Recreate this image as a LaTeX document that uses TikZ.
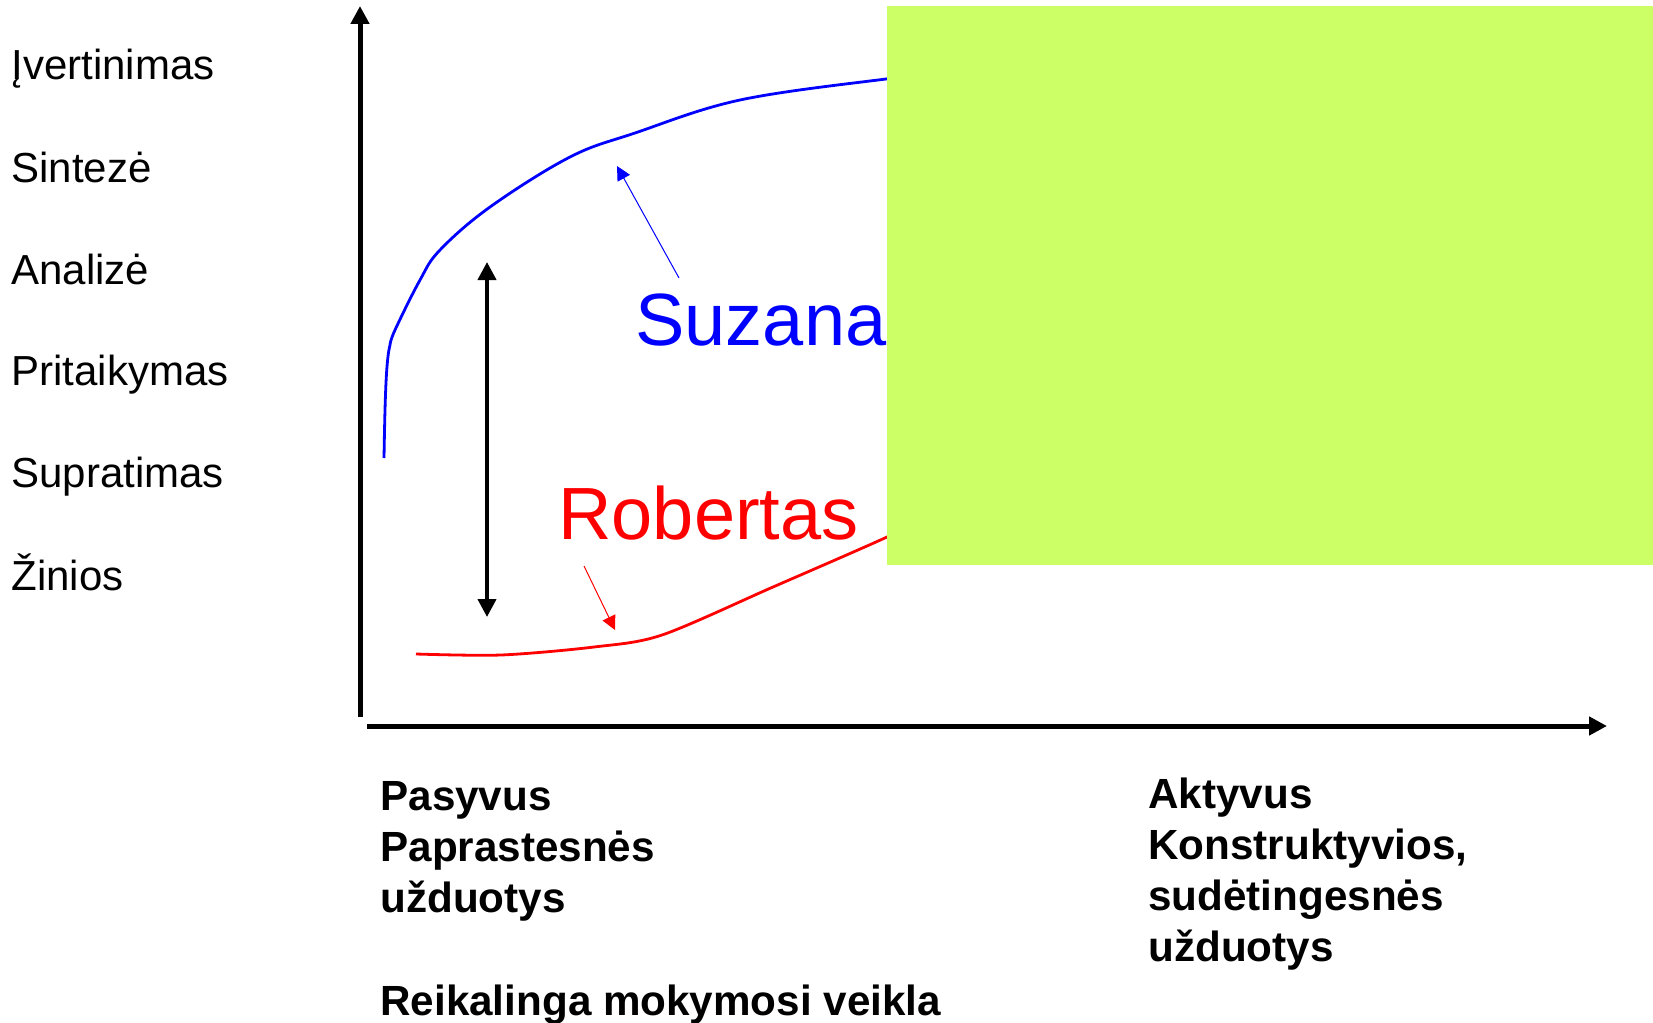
\documentclass[tikz,border=0pt]{standalone}
\usepackage{fontspec}
\setmainfont{Liberation Sans}
\usetikzlibrary{arrows.meta}
\definecolor{lime}{RGB}{204,255,102}

\begin{document}
\begin{tikzpicture}[x=0.5pt,y=-0.5pt,
  lvl/.style={anchor=base west,inner sep=0pt,font=\fontsize{21}{25}\selectfont},
  side/.style={anchor=base west,inner sep=0pt,align=left,font=\bfseries\fontsize{21.1}{25.5}\selectfont},
  who/.style={anchor=base west,inner sep=0pt,font=\fontsize{37}{40}\selectfont},
  axis/.style={line width=2.5pt,-{Triangle[length=9pt,width=9pt]}},
  span/.style={line width=2pt,{Triangle[length=9pt,width=9pt]}-{Triangle[length=9pt,width=9pt]}},
  hint/.style={line width=0.5pt,-{Triangle[length=7pt,width=7pt]}}]
  \useasboundingbox (0,0) rectangle (1653,1022);

  \node[lvl] (iv) at (11,80) {Įvertinimas};
  \node[lvl] (si) at (11,182) {Sintezė};
  \node[lvl] (an) at (11,284) {Analizė};
  \node[lvl] (pr) at (11,385) {Pritaikymas};
  \node[lvl] (su) at (11,487) {Supratimas};
  \node[lvl] (zi) at (11,590) {Žinios};

  \coordinate (o) at (360,717);
  \coordinate (yt) at (360,6);
  \coordinate (xo) at (367,726);
  \coordinate (xt) at (1607,726);
  \draw[axis] (o) -- (yt);
  \draw[axis] (xo) -- (xt);

  \draw[blue,line width=1.4pt] (384,458) .. controls (385,400) and (386,360) .. (390,345)
    plot[smooth,tension=0.6] coordinates {(390,345) (395,330) (420,280) (440,250) (490,207)
      (570,157) (635,133) (740,100) (886,79) (950,73)};
  \draw[red,line width=1.4pt] plot[smooth,tension=0.5] coordinates {(416,654) (501,655)
    (594,647) (662,635) (773,587) (887,537) (940,510)};

  \coordinate (da) at (487,262);
  \coordinate (db) at (487,617);
  \draw[span] (da) -- (db);

  \node[who,text=blue] (suz) at (635,345) {Suzana};
  \node[who,text=red] (rob) at (558,539) {Robertas};
  \coordinate (sa) at (679,278);
  \coordinate (st) at (617,166);
  \coordinate (ra) at (584,566);
  \coordinate (rt) at (615,630);
  \draw[hint,blue] (sa) -- (st);
  \draw[hint,red] (ra) -- (rt);

  \fill[lime] (887,6) rectangle (1653,565);

  \node[side] (pas) at (380,912) {Pasyvus\\Paprastesnės\\užduotys};
  \node[side] (rei) at (380,1015) {Reikalinga mokymosi veikla};
  \node[side] (akt) at (1148,961) {Aktyvus\\Konstruktyvios,\\sudėtingesnės\\užduotys};
\end{tikzpicture}
\end{document}
